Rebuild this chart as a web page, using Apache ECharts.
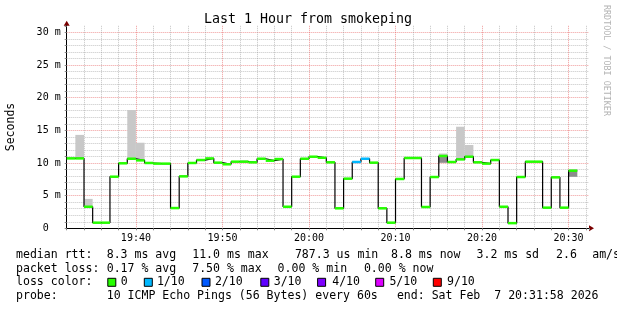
<!DOCTYPE html>
<html><head><meta charset="utf-8">
<script src="https://cdn.jsdelivr.net/npm/echarts@6/dist/echarts.min.js"></script>
<style>html,body{margin:0;padding:0;background:#fff}#c{width:617px;height:310px}</style>
</head><body><div id="c"></div>
<script>
// ---- data (minutes since 19:32) ----
const startHour = 19, startMinute = 32;
const medianMs = [10.7,10.7,3.3,0.86,0.86,7.9,9.95,10.65,10.4,10.0,
  9.9,9.9,3.1,7.95,10.0,10.45,10.7,10.05,9.8,10.2,
  10.2,10.1,10.65,10.35,10.6,3.3,7.9,10.65,10.96,10.8,
  10.1,3.06,7.6,10.15,10.65,10.05,3.06,0.86,7.55,10.76,
  10.76,3.26,7.85,11.07,10.15,10.55,10.96,10.1,9.9,10.45,
  3.3,0.79,7.85,10.2,10.2,3.16,7.8,3.16,8.82];
const lossTenths = [0,0,0,0,0,0,0,0,0,0, 0,0,0,0,0,0,0,0,0,0, 0,0,0,0,0,0,0,0,0,0,
  0,0,0,1,1,0,0,0,0,0, 0,0,0,0,0,0,0,0,0,0, 0,0,0,0,0,0,0,0,0];
const smokeMinute = [1,2,7,8,20,43,45,46,58];
const smokeLow    = [10.7,3.3,10.65,10.4,10.2,10.0,10.55,10.96,7.85];
const smokeHigh   = [14.3,4.5,18.1,13.1,10.4,11.45,15.55,12.75,9.08];
const darkMinute = [43,58];
const darkLow    = [10.05,7.9];
const darkHigh   = [11.07,8.82];
const xTickMinutes = [8,18,28,38,48,58];
const xTickLabels = ['19:40','19:50','20:00','20:10','20:20','20:30'];
const yTickValues = [0,5,10,15,20,25,30];
const yTickLabels = ['0  ','5 m','10 m','15 m','20 m','25 m','30 m'];
const lossColors = {0:'#26ff00',1:'#00b8ff',2:'#0059ff',3:'#5e00ff',4:'#7e00ff',5:'#dd00ff',9:'#ff0000'};
const legendLoss = [[0,'0'],[1,'1/10'],[2,'2/10'],[3,'3/10'],[4,'4/10'],[5,'5/10'],[9,'9/10']];

const MONO = 'DejaVu Sans Mono';
const XMAX = 60.36, YMAX = 31;
const chart = echarts.init(document.getElementById('c'), null, {renderer:'canvas'});

const stepData = medianMs.map((v,i)=>[i,v]);
stepData.push([medianMs.length, medianMs[medianMs.length-1]]);
const medData = medianMs.map((v,i)=>[i,v,lossTenths[i]]);
const smokeData = smokeMinute.map((m,i)=>[m,smokeLow[i],smokeHigh[i]]);
const darkData = darkMinute.map((m,i)=>[m,darkLow[i],darkHigh[i]]);

function bandRender(color){
  return function(params, api){
    const m = api.value(0), lo = api.value(1), hi = api.value(2);
    const p1 = api.coord([m, hi]), p2 = api.coord([m+1, lo]);
    return {type:'rect', shape:{x:p1[0], y:p1[1], width:p2[0]-p1[0], height:p2[1]-p1[1]},
      style:{fill:color}};
  };
}

const minorGrid = 'rgba(150,150,150,0.55)';
const majorGrid = 'rgba(230,90,90,0.6)';

chart.setOption({
  animation:false,
  backgroundColor:'#fff',
  grid:{left:66.7, right:617-589, top:25.8, bottom:310-228.3, containLabel:false},
  xAxis:{type:'value', min:0, max:XMAX, interval:2,
    axisLine:{lineStyle:{color:'#000', width:1}},
    axisTick:{show:true, length:2, lineStyle:{color:'#888'}},
    axisLabel:{fontFamily:MONO, fontSize:10, color:'#000', margin:5,
      formatter:v=>{const k=xTickMinutes.indexOf(v); return k>=0?xTickLabels[k]:'';}},
    splitLine:{show:true, showMaxLine:false,
      lineStyle:{color:[minorGrid,minorGrid,minorGrid,minorGrid,majorGrid], type:[1,1], width:1}}
  },
  yAxis:{type:'value', min:0, max:YMAX, interval:1,
    axisLine:{show:true, lineStyle:{color:'#000', width:1}},
    axisTick:{show:true, length:2, lineStyle:{color:'#888'}},
    axisLabel:{fontFamily:MONO, fontSize:10, color:'#000', margin:6,
      formatter:v=>{const k=yTickValues.indexOf(v); return k>=0?yTickLabels[k]:'';}},
    splitLine:{show:true, showMaxLine:false,
      lineStyle:{color:[majorGrid,minorGrid,minorGrid,minorGrid,minorGrid], type:[1,1], width:1}}
  },
  series:[
    {type:'custom', renderItem:bandRender('#c8c8c8'), data:smokeData, encode:{x:0,y:[1,2]}, z:1, silent:true},
    {type:'custom', renderItem:bandRender('#8c8c8c'), data:darkData, encode:{x:0,y:[1,2]}, z:2, silent:true},
    {type:'line', step:'end', data:stepData, symbol:'none', z:3, silent:true,
      lineStyle:{color:'#000', width:1.2}},
    {type:'custom', z:4, silent:true, data:medData, encode:{x:0,y:1},
      renderItem:function(params, api){
        const m=api.value(0), v=api.value(1), l=api.value(2);
        const a=api.coord([m,v]), b=api.coord([m+1,v]);
        return {type:'line', shape:{x1:a[0],y1:a[1],x2:b[0],y2:b[1]},
          style:{stroke:lossColors[l], lineWidth:2.5}};
      }}
  ]
});

// ---- decorations ----
const yTop = chart.convertToPixel({gridIndex:0},[0,YMAX]);
const xEnd = chart.convertToPixel({gridIndex:0},[XMAX,0]);
const arrowColor = '#7a0000';
const g = [];
g.push({type:'polygon', shape:{points:[[yTop[0]-3,yTop[1]],[yTop[0]+3,yTop[1]],[yTop[0],yTop[1]-5]]}, style:{fill:arrowColor}});
g.push({type:'polygon', shape:{points:[[xEnd[0],xEnd[1]-3],[xEnd[0],xEnd[1]+3],[xEnd[0]+5,xEnd[1]]]}, style:{fill:arrowColor}});
g.push({type:'text', x:308, y:20, style:{text:'Last 1 Hour from smokeping', font:'13.3px '+MONO, fill:'#000', align:'center', verticalAlign:'middle'}});
g.push({type:'text', x:11, y:127, rotation:Math.PI/2, style:{text:'Seconds', font:'11.5px '+MONO, fill:'#000', align:'center', verticalAlign:'middle'}});
g.push({type:'text', x:606, y:5, rotation:-Math.PI/2, style:{text:'RRDTOOL / TOBI OETIKER', font:'8.4px '+MONO, fill:'#b4b4b4', align:'left', verticalAlign:'middle'}});

const LF = '11.55px '+MONO;
function txt(x,y,s){ g.push({type:'text', x:x, y:y, style:{text:s, font:LF, fill:'#000', align:'left', verticalAlign:'middle'}}); }
const L1=255, L2=268.5, L3=282.3, L4=296;
txt(16,L1,'median rtt:'); txt(106.7,L1,'8.3 ms avg'); txt(192.2,L1,'11.0 ms max'); txt(294.9,L1,'787.3 us min');
txt(391,L1,'8.8 ms now'); txt(476.5,L1,'3.2 ms sd'); txt(556.1,L1,'2.6'); txt(592.2,L1,'am/s');
txt(16,L2,'packet loss:'); txt(106.7,L2,'0.17 % avg'); txt(192.2,L2,'7.50 % max'); txt(277.6,L2,'0.00 % min'); txt(363.9,L2,'0.00 % now');
txt(16,L3,'loss color:');
const boxX = [107.8,144.3,202,260.8,317.6,375.7,433.3];
const labX = [120.8,156.9,214.9,273.7,332.2,389.4,447];
legendLoss.forEach((d,i)=>{
  g.push({type:'rect', shape:{x:boxX[i], y:L3-4, width:8, height:8}, style:{fill:lossColors[d[0]], stroke:'#000', lineWidth:1}});
  txt(labX[i],L3,d[1]);
});
txt(16,L4,'probe:'); txt(106.7,L4,'10 ICMP Echo Pings (56 Bytes) every 60s'); txt(396.9,L4,'end: Sat Feb  7 20:31:58 2026');
chart.setOption({graphic:g});
</script></body></html>
